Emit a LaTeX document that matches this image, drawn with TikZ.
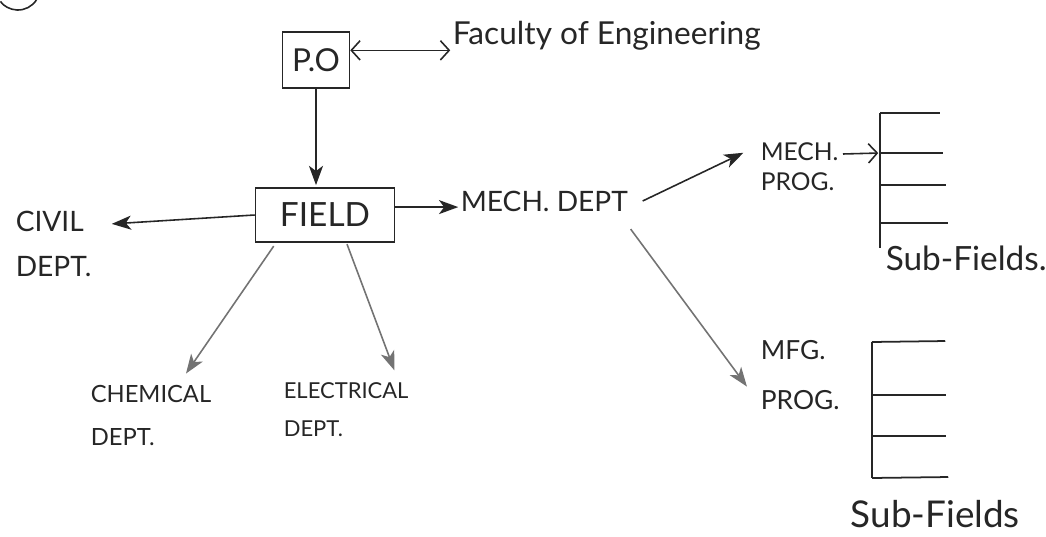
\documentclass[tikz,border=0pt]{standalone}
\usepackage{fontspec}
\setmainfont{Lato}
\usetikzlibrary{arrows.meta,calc}

\begin{document}
\begin{tikzpicture}[->,>={Stealth[length=11pt,width=8pt,inset=3pt]},shorten >=1pt,x=0.02cm,y=-0.02cm,
      black!85,line width=0.9pt,
      box/.style={draw,rectangle,inner sep=2pt,line width=1pt},
      lbl/.style={anchor=north west,align=left,inner sep=0pt},
      barb/.style={>={Straight Barb[length=5pt,width=11pt]}},
      pale/.style={black!55}]
      \useasboundingbox (0,0) rectangle (1046,537);

      \draw[-] (36.4,0) arc[start angle=33,end angle=147,radius=22];

      \node[box,minimum width=38pt,minimum height=32pt,font=\fontsize{18}{20}\selectfont] (po) at (316,60) {P.O};
      \node[box,minimum width=79pt,minimum height=31pt,font=\fontsize{19}{21}\selectfont] (field) at (325,215) {FIELD};
      \node[anchor=base west,inner sep=0pt,font=\fontsize{18}{22}\selectfont] (fac) at (452,45) {Faculty of Engineering};

      \node[lbl,font=\fontsize{16}{26}\selectfont] (civil) at (15,210) {CIVIL\\DEPT.};
      \node[anchor=west,inner sep=0pt,font=\fontsize{16}{18}\selectfont] (mechdept) at (460,201) {MECH. DEPT};
      \node[lbl,font=\fontsize{14}{17}\selectfont] (mechprog) at (760,142) {MECH.\\PROG.};
      \node[lbl,font=\fontsize{15}{28}\selectfont] (mfgprog) at (760,340) {MFG.\\PROG.};
      \node[lbl,font=\fontsize{13.5}{24}\selectfont] (chem) at (90,385) {CHEMICAL\\DEPT.};
      \node[lbl,font=\fontsize{12.5}{21.5}\selectfont] (elec) at (283,382) {ELECTRICAL\\DEPT.};
      \node[lbl,font=\fontsize{19}{22}\selectfont] (subA) at (885,245) {Sub-Fields.};
      \node[lbl,font=\fontsize{21}{24}\selectfont] (subB) at (850,500) {Sub-Fields};

      % sub-field combs
      \coordinate (tickA) at (880,153);
      \draw[-,line width=1pt] (880,113) -- (880,250);
      \draw[-,line width=1pt] (880,113) -- (942,113);
      \draw[-,line width=1pt] (tickA) -- (945,153);
      \draw[-,line width=1pt] (880,185) -- (948,185);
      \draw[-,line width=1pt] (880,223) -- (950,223);

      \draw[-,line width=1pt] (872,342) -- (872,480);
      \draw[-,line width=1pt] (872,342) -- (947,341);
      \draw[-,line width=1pt] (872,395) -- (948,395);
      \draw[-,line width=1pt] (872,436) -- (948,436);
      \draw[-,line width=1pt] (872,478) -- (950,477);

      \draw[barb,<->] ([yshift=5.5pt]po.east) -- ([yshift=5.5pt]po.east -| fac.west);
      \draw (po.south) -- (po.south |- field.north);
      \draw (field.west) -- ($(civil.north west)+(95,14)$);
      \draw ([yshift=4.5pt]field.east) -- ([yshift=4.5pt]field.east -| mechdept.west);
      \draw ($(mechdept.east)+(14,0)$) -- ($(mechprog.north west)+(-15,10)$);
      \draw[barb] ($(mechprog.north west)+(83,12)$) -- (tickA);
      \draw[pale] ($(mechdept.south east)+(2,17)$) -- ($(mfgprog.north west)+(-12,48)$);
      \draw[pale] ($(field.south west)+(19,3)$) -- ($(chem.north west)+(95,-10)$);
      \draw[pale] ($(field.south)+(22,1)$) -- ($(elec.north west)+(112,-10)$);
\end{tikzpicture}
\end{document}
